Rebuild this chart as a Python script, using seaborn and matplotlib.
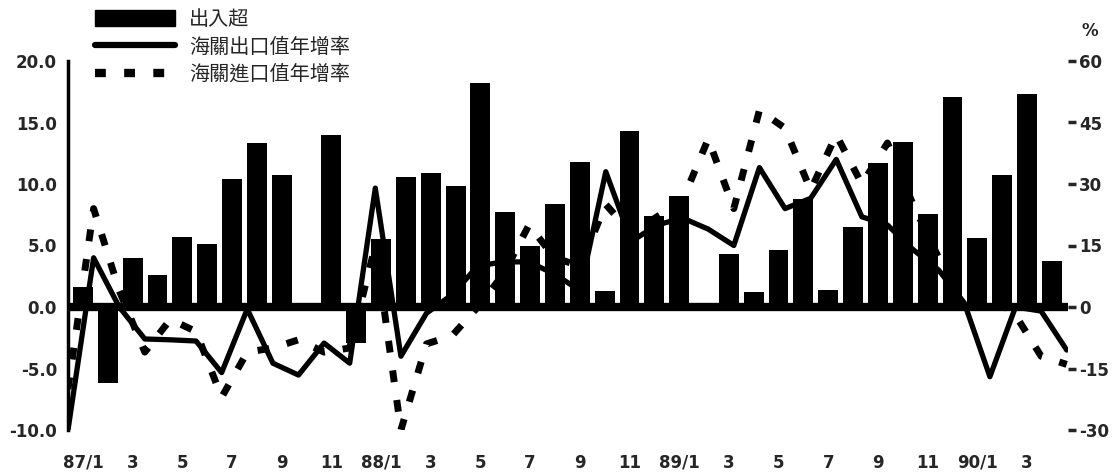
import numpy as np
import pandas as pd
import seaborn as sns
import matplotlib.pyplot as plt
from matplotlib.patches import Patch
from matplotlib.lines import Line2D

# monthly data 87/1 - 90/4
years = ['87', '88', '89', '90']
n_months = [12, 12, 12, 4]

# 出入超 (left axis)
balance = [1.6, -6.2, 4.0, 2.6, 5.7, 5.1, 10.4, 13.3, 10.7, -0.3, 14.0, -2.9,
           5.5, 10.6, 10.9, 9.8, 18.2, 7.7, 5.0, 8.4, 11.8, 1.3, 14.3, 7.4,
           9.0, -0.2, 4.3, 1.2, 4.6, 8.8, 1.4, 6.5, 11.7, 13.4, 7.6, 17.1,
           5.6, 10.7, 17.3, 3.7]

# 海關出口值年增率 (right axis, %)
export_growth = [-30, 12, 0, -7.8, -8, -8.3, -16, -0.5, -13.7, -16.6, -8.8, -13.7,
                 29, -12, -1.5, 3, 10, 11, 11, 8, 4, 33, 16, 20,
                 21.7, 19, 15, 34, 24, 26.5, 36, 22, 20, 14, 9, 1,
                 -17, 0, -1, -10.5]

# 海關進口值年增率 (right axis, %)
import_growth = [-20, 24, 4, -11, -3, -6, -22, -11, -10, -8, -11, -10,
                 15, -30, -9, -7, 0, 8, 20, 12, 10, 25, 18, 22,
                 26, 41, 24, 48, 43.6, 28.5, 42, 30, 40, 25, 12, 5,
                 3, -2, -12, -14]

left_ticks = [-10, -5, 0, 5, 10, 15, 20]
right_ticks = [-30, -15, 0, 15, 30, 45, 60]

labels = []
for y, n in zip(years, n_months):
    for m in range(1, n + 1):
        labels.append(f'{y}/1' if m == 1 else str(m))

df = pd.DataFrame({'month': labels, 'pos': np.arange(len(labels)),
                   'balance': balance, 'export': export_growth, 'import': import_growth})

sns.set_style('white')
plt.rcParams['font.family'] = ['DejaVu Sans']
cjk = ['Noto Sans CJK TC', 'DejaVu Sans']

fig = plt.figure(figsize=(11.16, 4.72), dpi=100)
rect = [68 / 1116, 1 - 430 / 472, 1000 / 1116, 369 / 472]
ax = fig.add_axes(rect)

sns.barplot(data=df, x='pos', y='balance', color='black', saturation=1,
            width=0.8, ax=ax, linewidth=0)
ax.axhline(0, color='black', lw=6, zorder=3)
ax.set_xlim(-0.6, 39.65)
ax.set_ylim(-10, 20)
for s in ['top', 'right', 'bottom']:
    ax.spines[s].set_visible(False)
ax.spines['left'].set_linewidth(2.5)
ax.spines['left'].set_color('black')
ax.set_yticks(left_ticks)
ax.set_yticklabels([f'{v:.1f}' for v in left_ticks],
                   fontsize=12, fontweight='bold')
ax.set_xticks(df['pos'][::2])
ax.set_xticklabels(df['month'][::2], fontsize=12, fontweight='bold')
ax.tick_params(axis='y', direction='out', length=6, width=2.5, pad=2)
ax.tick_params(axis='x', length=0, pad=17)
ax.set_xlabel('')
ax.set_ylabel('')

# growth-rate lines on their own axes, running edge to edge
ax2 = fig.add_axes(rect, frameon=False)
sns.lineplot(data=df, x='pos', y='export', color='black', lw=3.8, ax=ax2)
sns.lineplot(data=df, x='pos', y='import', color='black', lw=5,
             linestyle=(0, (1.7, 2.6)), ax=ax2)
ax2.set_xlim(0, 39.05)
ax2.set_ylim(-30, 60)
ax2.xaxis.set_visible(False)
ax2.yaxis.tick_right()
ax2.spines['right'].set_visible(True)
ax2.spines['right'].set_linewidth(2.5)
ax2.spines['right'].set_color('black')
ax2.set_yticks(right_ticks)
ax2.set_yticklabels([str(v) for v in right_ticks], fontsize=12, fontweight='bold')
ax2.tick_params(axis='y', direction='out', length=6, width=2.5, pad=2)
ax2.set_xlabel('')
ax2.set_ylabel('')
fig.text(1090 / 1116, 1 - 36 / 472, '%', fontsize=12, fontweight='bold', ha='center')

handles = [Patch(facecolor='black', edgecolor='black'),
           Line2D([], [], color='black', lw=4.5),
           Line2D([], [], color='black', lw=6, linestyle=(0, (1.3, 2.2)))]
fig.legend(handles, ['出入超', '海關出口值年增率', '海關進口值年增率'],
           loc='upper left', bbox_to_anchor=(77 / 1116, 1 + 9 / 472),
           frameon=False, handlelength=3.95, handleheight=0.85, handletextpad=0.7,
           labelspacing=0.32, borderpad=0.4, prop={'family': cjk, 'size': 14.5})

fig.savefig('out.png', dpi=100, facecolor='white')
